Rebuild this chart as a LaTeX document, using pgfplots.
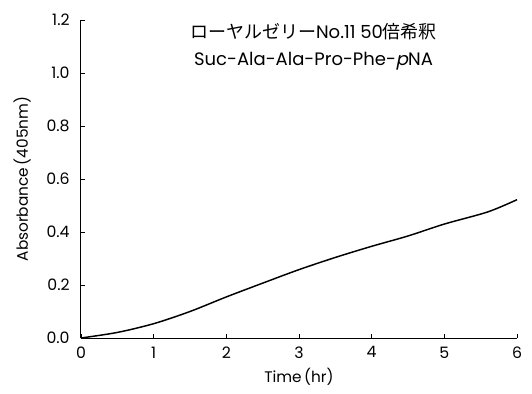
\documentclass[border=0pt]{standalone}
\usepackage{fontspec}
\setmainfont{Poppins}
\newfontfamily\jp{Noto Sans CJK JP}
\newfontfamily\slfont[FakeSlant=0.2]{Poppins}
\usepackage{pgfplots}
\pgfplotsset{compat=1.18}
\begin{document}
\begin{tikzpicture}
\begin{axis}[
  at={(0,0)}, anchor=origin,
  scale only axis,
  width=327pt, height=238.5pt,
  xmin=0, xmax=6, ymin=0, ymax=1.2,
  axis lines=left,
  axis line style={line width=0.75pt, -},
  xtick={0,1,2,3,4,5,6},
  ytick={0,0.2,0.4,0.6,0.8,1.0,1.2},
  yticklabel style={/pgf/number format/fixed, /pgf/number format/fixed zerofill, /pgf/number format/precision=1, xshift=-5pt},
  /pgf/number format/assume math mode=true,
  tick align=inside,
  major tick length=3pt,
  tick style={black, line width=0.6pt},
  ticklabel style={font=\fontsize{11.8pt}{13pt}\selectfont},
  label style={font=\fontsize{11.5pt}{13pt}\selectfont},
  xlabel={Time\,(hr)},
  ylabel={Absorbance\,(405nm)},
  xlabel style={at={(axis description cs:0.5,0)}, anchor=north, yshift=-19pt},
  ylabel style={at={(axis description cs:-0.135,0.5)}, anchor=center},
  xticklabel style={yshift=-3pt},
  clip=false,
]
\addplot[black, line width=1.1pt, smooth, tension=0.5] coordinates {
(0,0) (0.5,0.021) (1,0.054) (1.5,0.100) (2,0.155) (2.5,0.207) (3,0.258)
(3.5,0.304) (4,0.346) (4.5,0.385) (5,0.430) (5.6,0.476) (6,0.522)
};
\node[font=\fontsize{13.5pt}{15pt}\selectfont, anchor=center] at (axis cs:3.2,1.155) {{\jp ローヤルゼリー}No.11 50{\jp 倍希釈}};
\node[font=\fontsize{13.5pt}{15pt}\selectfont, anchor=center] at (axis cs:3.2,1.045) {Suc-Ala-Ala-Pro-Phe-{\slfont p}NA};
\end{axis}
\pgfresetboundingbox
\path[use as bounding box] (-60.75pt,-41.25pt) rectangle (338.25pt,253.5pt);
\end{tikzpicture}
\end{document}
